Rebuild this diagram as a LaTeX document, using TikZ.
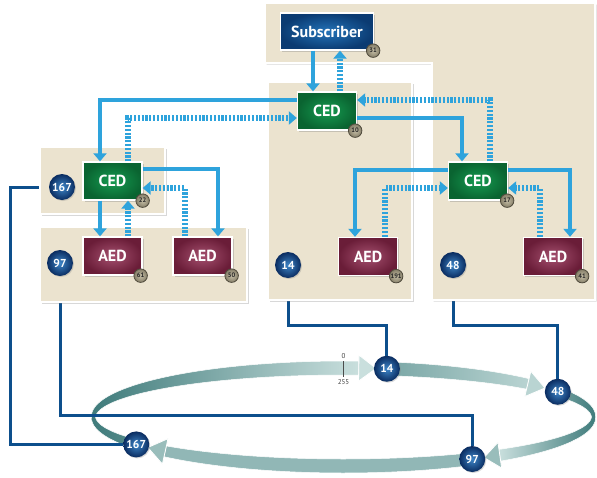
\documentclass[tikz,border=0pt]{standalone}
\usepackage{fontspec}
\setmainfont{PT Sans}
\usetikzlibrary{arrows.meta,calc,shadows}
\pgfdeclarelayer{ringlayer}
\pgfdeclarelayer{lines}
\pgfdeclarelayer{panels}
\pgfsetlayers{ringlayer,lines,panels,main}

\definecolor{panelbg}{HTML}{EBE3CF}
\definecolor{flow}{HTML}{2EA3DC}
\definecolor{wire}{HTML}{0D4F8C}
\definecolor{subin}{HTML}{2373B8}
\definecolor{subout}{HTML}{0B3B72}
\definecolor{cedin}{HTML}{159A50}
\definecolor{cedout}{HTML}{0A6431}
\definecolor{aedin}{HTML}{A5506F}
\definecolor{aedout}{HTML}{6A1D38}
\definecolor{ballin}{HTML}{3E86C8}
\definecolor{ballout}{HTML}{0A2C60}
\definecolor{tagin}{HTML}{C4BDA5}
\definecolor{tagout}{HTML}{857E68}
\definecolor{tagedge}{HTML}{4F4A3C}
\definecolor{ringdark}{HTML}{3F7B7B}
\definecolor{ringmid}{HTML}{79A6A5}
\definecolor{ringlight}{HTML}{C9DFDD}

\tikzset{
  panel/.style={fill=panelbg, draw=white, line width=1.5pt,
    drop shadow={shadow xshift=1.5pt, shadow yshift=-1.5pt, opacity=.3}},
  box/.style={rectangle, draw=white, line width=1.3pt, minimum width=59pt,
    minimum height=38pt, text=white, font=\fontsize{16}{16}\selectfont\bfseries,
    drop shadow={shadow xshift=1.5pt, shadow yshift=-1.5pt, opacity=.35}},
  subbox/.style={box, inner color=subin, outer color=subout,
    minimum width=93pt, minimum height=37pt},
  cedbox/.style={box, inner color=cedin, outer color=cedout},
  aedbox/.style={box, inner color=aedin, outer color=aedout},
  tag/.style={circle, inner color=tagin, outer color=tagout, draw=tagedge,
    line width=0.8pt, minimum size=13.5pt, inner sep=0pt,
    font=\fontsize{6.5}{6.5}\selectfont\bfseries, text=black!85},
  ball/.style={circle, inner color=ballin, outer color=ballout,
    minimum size=26pt, inner sep=0pt, text=white,
    font=\fontsize{11.5}{11.5}\selectfont\bfseries,
    drop shadow={shadow xshift=1pt, shadow yshift=-1pt, opacity=.3}},
  solidflow/.style={draw=flow, line width=4.5pt,
    -{Triangle[width=13pt,length=8pt]}},
  stripeflow/.style={draw=flow, line width=6pt,
    dash pattern=on 2.2pt off 1.6pt, -{Triangle[width=13pt,length=8pt]}},
  wireline/.style={draw=wire, line width=3pt},
  ringedge/.style={draw=white, line width=0.5pt},
  marklabel/.style={font=\fontsize{7}{7}\selectfont, text=black!75, inner sep=0pt},
}

% ring band between two offset ellipses, from angle #1 to #2
\newcommand\ringband[3]{%
  \shadedraw[#3, ringedge]
    plot[domain=#1:#2, samples=50, variable=\t] ({bx(\t,1)},{by(\t,1)})
    -- plot[domain=#2:#1, samples=50, variable=\t] ({bx(\t,-1)},{by(\t,-1)})
    -- cycle;}
% arrow head on the ring, base angle #1, tip angle #2, colour #3
\newcommand\ringhead[3]{%
  \path ({ex(#1)},{ey(#1)}) coordinate (hb) ({ex(#2)},{ey(#2)}) coordinate (ht);
  \filldraw[fill=#3, draw=white, line width=0.8pt, line join=round]
    (ht) -- ($(hb)!13pt!90:(ht)$) -- ($(hb)!13pt!-90:(ht)$) -- cycle;}

\begin{document}
\begin{tikzpicture}[x=1pt, y=-1pt,
  declare function={
    ex(\t)=343.5+250*cos(\t);
    ey(\t)=417+49*sin(\t);
    hw(\t)=2+5*abs(sin(\t));
    nn(\t)=sqrt((0.196*cos(\t))^2+(sin(\t))^2);
    bx(\t,\s)=ex(\t)+\s*hw(\t)*0.196*cos(\t)/nn(\t);
    by(\t,\s)=ey(\t)+\s*hw(\t)*sin(\t)/nn(\t);
  }]
\useasboundingbox (0,0) rectangle (597,477);

% ---- ring ----
\begin{pgfonlayer}{ringlayer}
  \fill[white] (0,0) rectangle (597,477);
  \ringband{146}{273.5}{left color=ringdark, right color=ringlight}
  \ringhead{273.5}{277.5}{ringlight}
  \ringband{280}{317.5}{left color=ringmid, right color=ringlight!80!ringmid}
  \ringhead{317.5}{323.7}{ringlight!80!ringmid}
  \ringband{329}{411.3}{left color=ringlight, right color=ringdark}
  \ringhead{411.3}{415.8}{ringmid!60!ringlight}
  \ringband{59}{135.5}{left color=ringmid!70!ringlight, middle color=ringlight!60!white, right color=ringmid!70!ringlight}
  \ringhead{135.5}{141.5}{ringmid!60!ringlight}
\end{pgfonlayer}

% ---- panels ----
\begin{pgfonlayer}{panels}
  \path[panel] (265,3) -- (595,3) -- (595,300) -- (432,300) -- (432,63) -- (265,63) -- cycle;
  \path[panel] (268,82) rectangle (412,300);
  \path[panel] (40,147) rectangle (165,214);
  \path[panel] (40,227) rectangle (247,302);
\end{pgfonlayer}

% ---- devices ----
\node[subbox] (sub) at (327,31.5) {Subscriber};
\node[cedbox] (ced0) at (327,111) {CED};
\node[cedbox] (ced22) at (112.5,181) {CED};
\node[aedbox] (aed61) at (112.5,256) {AED};
\node[aedbox] (aed50) at (202.5,256) {AED};
\node[cedbox] (ced17) at (478,181) {CED};
\node[aedbox] (aed191) at (368,256.5) {AED};
\node[aedbox] (aed41) at (553,256.5) {AED};

\node[tag] (t31) at ([xshift=-1pt]sub.south east) {31};
\node[tag] (t10) at ([xshift=-2pt]ced0.south east) {10};
\node[tag] (t22) at ([xshift=0pt]ced22.south east) {22};
\node[tag] (t61) at ([xshift=-2pt]aed61.south east) {61};
\node[tag] (t50) at ([xshift=-1pt]aed50.south east) {50};
\node[tag] (t17) at ([xshift=-1pt]ced17.south east) {17};
\node[tag] (t191) at ([xshift=-2pt]aed191.south east) {191};
\node[tag] (t41) at ([xshift=-1pt]aed41.south east) {41};

% ---- segment numbers ----
\node[ball] (p167) at (62,187) {167};
\node[ball] (p97) at (60,263) {97};
\node[ball] (p14) at (288,265) {14};
\node[ball] (p48) at (453,265) {48};

\node[ball] (r14) at ({ex(-80)},{ey(-80)}) {14};
\node[ball] (r48) at ({ex(-31)},{ey(-31)}) {48};
\node[ball] (r97) at ({ex(59)},{ey(59)}) {97};
\node[ball] (r167) at ({ex(146)},{ey(146)}) {167};

% ring origin mark
\draw[black!70, line width=0.5pt] (343.5,361) -- (343.5,377);
\node[marklabel] (m0) at (343.5,356) {0};
\node[marklabel] (m255) at (343.5,382) {255};

% ---- links from segments to ring positions ----
\begin{pgfonlayer}{lines}
  \draw[wireline] (p167) -- ++(-52,0) |- (r167);
  \draw[wireline] (p97) -- ++(0,152) -| (r97);
  \draw[wireline] (p14) -- ++(0,60) -| (r14);
  \draw[wireline] (p48) -- ++(0,60) -| (r48);
\end{pgfonlayer}

% ---- requests (solid) and replies (striped) ----
\draw[solidflow] ([xshift=-14pt]sub.south) -- ([xshift=-14pt]ced0.north);
\draw[stripeflow] ([xshift=13pt]ced0.north) -- ([xshift=13pt]sub.south);

\draw[solidflow] ([yshift=11pt]ced0.west) -| ([xshift=-12.5pt]ced22.north);
\draw[stripeflow] ([xshift=15.5pt]ced22.north) |- ([yshift=-7pt]ced0.west);
\draw[solidflow] ([yshift=-7pt]ced0.east) -| ([xshift=-16pt]ced17.north);
\draw[stripeflow] ([xshift=12pt]ced17.north) |- ([yshift=11pt]ced0.east);

\draw[solidflow] ([xshift=-12.5pt]ced22.south) -- ([xshift=-12.5pt]aed61.north);
\draw[stripeflow] ([xshift=15.5pt]aed61.north) -- ([xshift=15.5pt]ced22.south);
\draw[solidflow] ([yshift=12pt]ced22.east) -| ([xshift=15.5pt]aed50.north);
\draw[stripeflow] ([xshift=-17.5pt]aed50.north) |- ([yshift=-7pt]ced22.east);

\draw[solidflow] ([yshift=11pt]ced17.west) -| ([xshift=-13pt]aed191.north);
\draw[stripeflow] ([xshift=17pt]aed191.north) |- ([yshift=-7pt]ced17.west);
\draw[solidflow] ([yshift=11pt]ced17.east) -| ([xshift=17pt]aed41.north);
\draw[stripeflow] ([xshift=-13pt]aed41.north) |- ([yshift=-7pt]ced17.east);
\end{tikzpicture}
\end{document}
